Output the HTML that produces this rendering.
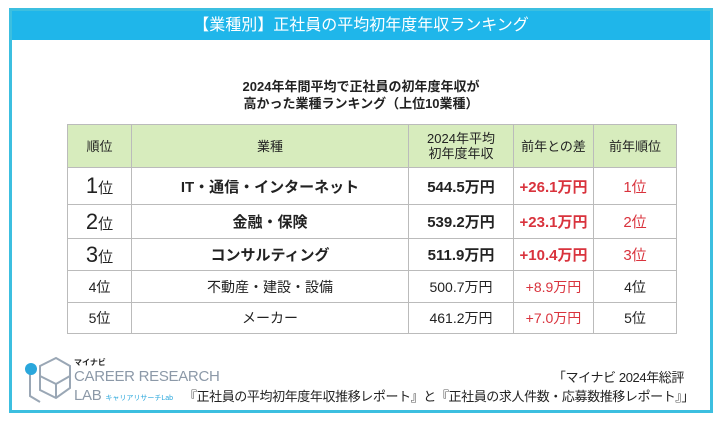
<!DOCTYPE html>
<html><head><meta charset="utf-8"><style>
*{margin:0;padding:0;box-sizing:border-box}
body{width:722px;height:422px;background:#fff;font-family:"Liberation Sans","Noto Sans CJK JP",sans-serif;position:relative;overflow:hidden;color:#222}
.frame{position:absolute;left:9px;top:8px;width:704px;height:405px;border:3px solid #3cbfe0;background:#fff}
.titlebar{position:absolute;left:0;top:0;width:100%;height:29px;background:#1fb6ea;color:#fff;font-size:16px;text-align:center;line-height:29px}
.sub{position:absolute;left:0;width:100%;text-align:center;font-size:13px;font-weight:bold;top:67px;line-height:17px}
table{position:absolute;left:55px;top:113px;border-collapse:collapse;font-size:14px}
td,th{border:1px solid #bbb;text-align:center}
th{background:#d7ecbd;height:43px;line-height:15px;font-weight:normal;font-size:13px}
tr.big td{font-size:15px;font-weight:bold}
.red{color:#d9333d}
tr.big td.rk{font-weight:normal}
.rk b{font-size:22px;font-weight:normal}
.foot{position:absolute;right:26px;font-size:13px;text-align:right;letter-spacing:-0.4px}
</style></head><body>
<div class="frame">
<div class="titlebar">【業種別】正社員の平均初年度年収ランキング</div>
<div class="sub">2024年年間平均で正社員の初年度年収が<br>高かった業種ランキング（上位10業種）</div>
<table>
<tr><th style="width:64px">順位</th><th style="width:277px">業種</th><th style="width:105px">2024年平均<br>初年度年収</th><th style="width:80px">前年との差</th><th style="width:83px">前年順位</th></tr>
<tr style="height:37px" class="big"><td class="rk"><b>1</b>位</td><td>IT・通信・インターネット</td><td>544.5万円</td><td class="red">+26.1万円</td><td class="red" style="font-weight:normal">1位</td></tr>
<tr style="height:34px" class="big"><td class="rk"><b>2</b>位</td><td>金融・保険</td><td>539.2万円</td><td class="red">+23.1万円</td><td class="red" style="font-weight:normal">2位</td></tr>
<tr style="height:32px" class="big"><td class="rk"><b>3</b>位</td><td>コンサルティング</td><td>511.9万円</td><td class="red">+10.4万円</td><td class="red" style="font-weight:normal">3位</td></tr>
<tr style="height:32px"><td>4位</td><td>不動産・建設・設備</td><td>500.7万円</td><td class="red">+8.9万円</td><td>4位</td></tr>
<tr style="height:31px"><td>5位</td><td>メーカー</td><td>461.2万円</td><td class="red">+7.0万円</td><td>5位</td></tr>
</table>
<svg style="position:absolute;left:10px;top:345px" width="50" height="52">
<g fill="none" stroke="#9aa7b5" stroke-width="2"><path d="M18 10 L34 2 L48 10 L48 32 L34 42 L18 34 Z"/><path d="M18 20 L34 28 L48 20 M34 28 L34 42"/><path d="M8 18 L8 40 L18 46"/></g>
<circle cx="9" cy="13" r="6" fill="#2aa7dc"/></svg>
<div style="position:absolute;left:62px;top:346px;font-size:8px;font-weight:bold">マイナビ</div>
<div style="position:absolute;left:62px;top:356px;font-size:15px;color:#8c99a8;line-height:19px;letter-spacing:-0.3px">CAREER RESEARCH<br>LAB <span style="font-size:7px;color:#2aa7dc;letter-spacing:0">キャリアリサーチLab</span></div>
<div class="foot" style="top:356px">「マイナビ 2024年総評</div>
<div class="foot" style="top:375px;right:16px">『正社員の平均初年度年収推移レポート』と『正社員の求人件数・応募数推移レポート』」</div>
</div>
</body></html>
